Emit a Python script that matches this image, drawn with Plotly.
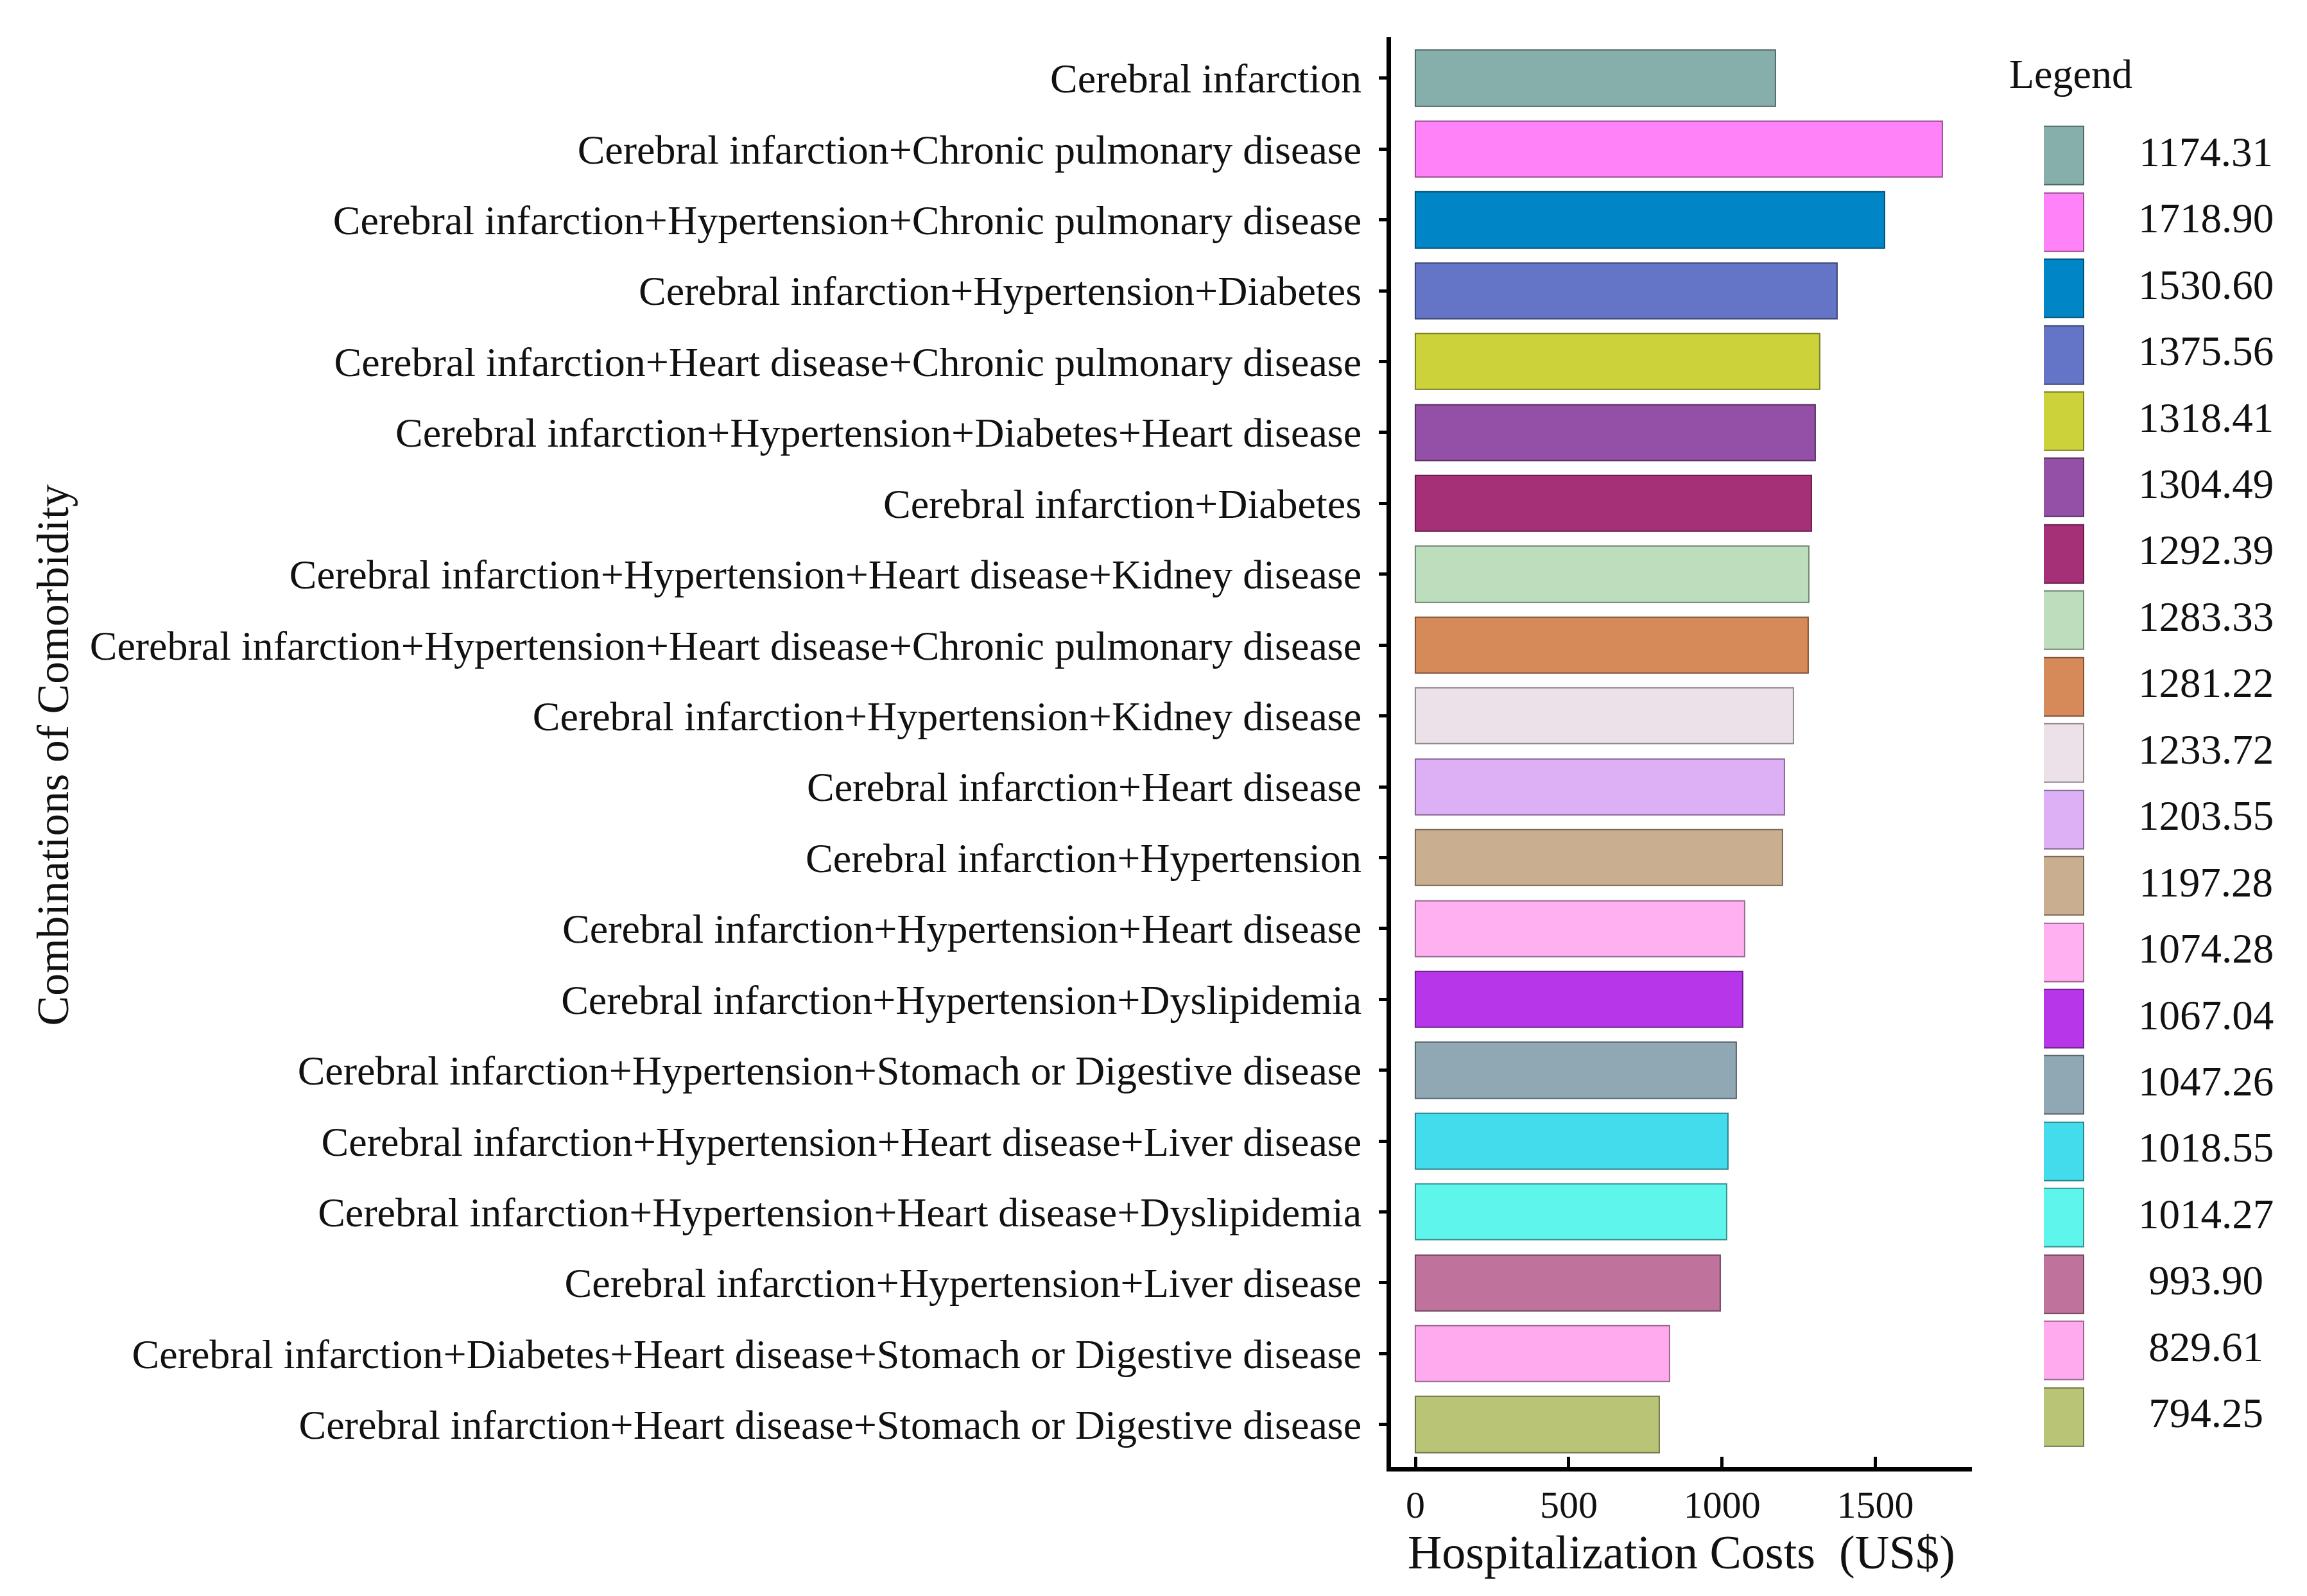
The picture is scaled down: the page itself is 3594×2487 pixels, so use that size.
import plotly.graph_objects as go

categories = [
    "Cerebral infarction",
    "Cerebral infarction+Chronic pulmonary disease",
    "Cerebral infarction+Hypertension+Chronic pulmonary disease",
    "Cerebral infarction+Hypertension+Diabetes",
    "Cerebral infarction+Heart disease+Chronic pulmonary disease",
    "Cerebral infarction+Hypertension+Diabetes+Heart disease",
    "Cerebral infarction+Diabetes",
    "Cerebral infarction+Hypertension+Heart disease+Kidney disease",
    "Cerebral infarction+Hypertension+Heart disease+Chronic pulmonary disease",
    "Cerebral infarction+Hypertension+Kidney disease",
    "Cerebral infarction+Heart disease",
    "Cerebral infarction+Hypertension",
    "Cerebral infarction+Hypertension+Heart disease",
    "Cerebral infarction+Hypertension+Dyslipidemia",
    "Cerebral infarction+Hypertension+Stomach or Digestive disease",
    "Cerebral infarction+Hypertension+Heart disease+Liver disease",
    "Cerebral infarction+Hypertension+Heart disease+Dyslipidemia",
    "Cerebral infarction+Hypertension+Liver disease",
    "Cerebral infarction+Diabetes+Heart disease+Stomach or Digestive disease",
    "Cerebral infarction+Heart disease+Stomach or Digestive disease",
]
costs = [1174.31, 1718.90, 1530.60, 1375.56, 1318.41, 1304.49, 1292.39, 1283.33,
         1281.22, 1233.72, 1203.55, 1197.28, 1074.28, 1067.04, 1047.26, 1018.55,
         1014.27, 993.90, 829.61, 794.25]
legend_labels = ["1174.31", "1718.90", "1530.60", "1375.56", "1318.41", "1304.49",
                 "1292.39", "1283.33", "1281.22", "1233.72", "1203.55", "1197.28",
                 "1074.28", "1067.04", "1047.26", "1018.55", "1014.27", "993.90",
                 "829.61", "794.25"]
colors = ["#86AEAA", "#FF82F8", "#0086C6", "#6474C6", "#CCD23A", "#944FA6",
          "#A63078", "#BDDEBD", "#D68A5A", "#EDE1E9", "#DDB0F5", "#C9AE90",
          "#FFB0F0", "#B836EA", "#8FA8B4", "#43DCEC", "#5EF5EC", "#BF739C",
          "#FFAAEE", "#BAC477"]
x_ticks = [0, 500, 1000, 1500]


def darker(hex_color, f=0.6):
    h = hex_color.lstrip("#")
    r, g, b = (int(h[i:i + 2], 16) for i in (0, 2, 4))
    return "rgb(%d,%d,%d)" % (r * f, g * f, b * f)


borders = [darker(c) for c in colors]
FONT = "Liberation Serif"
INK = "#111111"

fig = go.Figure()
fig.add_trace(go.Bar(
    x=costs, y=categories, orientation="h",
    marker=dict(color=colors, line=dict(color=borders, width=2)),
    width=0.79, showlegend=False, xaxis="x", yaxis="y",
))

idx = list(range(len(legend_labels)))
fig.add_trace(go.Bar(
    x=[1] * len(idx), y=idx, orientation="h",
    marker=dict(color=colors, line=dict(color=borders, width=2)),
    width=0.88, showlegend=False, xaxis="x2", yaxis="y2",
))
fig.add_trace(go.Scatter(
    x=[2.55] * len(idx), y=idx, mode="text", text=legend_labels,
    textposition="middle center",
    textfont=dict(family=FONT, size=65, color=INK),
    showlegend=False, xaxis="x2", yaxis="y2",
))

fig.update_layout(
    width=3594, height=2487,
    paper_bgcolor="white", plot_bgcolor="white",
    margin=dict(l=0, r=0, t=0, b=0),
    font=dict(family=FONT, color=INK),
    bargap=0,
    xaxis=dict(
        domain=[0.6007, 0.8525], range=[-80, 1815],
        tickvals=x_ticks, ticks="inside", ticklen=16, tickwidth=5,
        tickcolor="black", showline=True, linewidth=7, linecolor="black",
        showgrid=False, zeroline=False,
        tickfont=dict(family=FONT, size=60, color=INK),
        title=dict(text="Hospitalization Costs  (US$)",
                   font=dict(family=FONT, size=74, color=INK), standoff=18),
    ),
    yaxis=dict(
        domain=[0.084, 0.980], range=[19.6, -0.58],
        categoryorder="array", categoryarray=categories,
        ticks="outside", ticklen=12, tickwidth=5, tickcolor="black",
        showline=True, linewidth=7, linecolor="black", showgrid=False,
        tickfont=dict(family=FONT, size=64, color=INK),
        ticklabelstandoff=14,
    ),
    xaxis2=dict(domain=[0.8837, 0.99], range=[0.5, 3.6], visible=False,
                anchor="y2"),
    yaxis2=dict(domain=[0.0946, 0.9265], range=[19.5, -0.5], visible=False,
                anchor="x2"),
)
fig.add_annotation(text="Combinations of Comorbidity", xref="paper", yref="paper",
                   x=0.0095, y=0.53, xanchor="left", yanchor="middle",
                   textangle=-90, showarrow=False,
                   font=dict(family=FONT, size=70, color=INK))
fig.add_annotation(text="Legend", xref="paper", yref="paper",
                   x=0.8955, y=0.9566, xanchor="center", yanchor="middle",
                   showarrow=False,
                   font=dict(family=FONT, size=64, color=INK))

fig.write_html("out.html")
